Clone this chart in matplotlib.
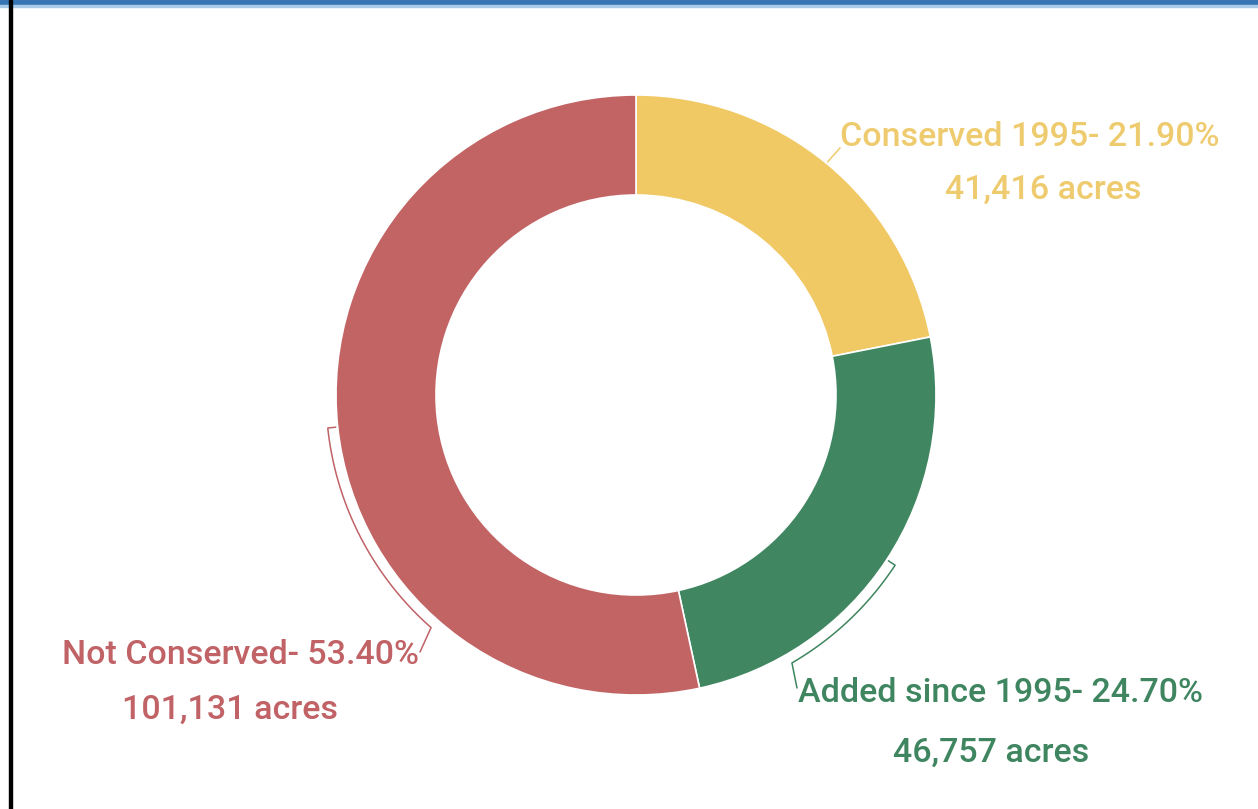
import numpy as np
import matplotlib
matplotlib.use("Agg")
import matplotlib.pyplot as plt
from matplotlib.patches import Rectangle

plt.rcParams['font.family'] = ['Roboto', 'DejaVu Sans']

categories = ["Conserved 1995", "Added since 1995", "Not Conserved"]
shares = [21.90, 24.70, 53.40]
acres = ["41,416", "46,757", "101,131"]
slice_colors = ["#F0C964", "#3F8661", "#C26364"]
text_colors = ["#EECB6E", "#3E8560", "#C06266"]

W, H = 1258, 809
fig = plt.figure(figsize=(W / 100, H / 100), dpi=100)
ax = fig.add_axes([0, 0, 1, 1])
ax.set_xlim(0, W)
ax.set_ylim(H, 0)
ax.set_aspect('equal')
ax.axis('off')

cx, cy, R = 636, 395, 300
# y axis points down, so "counterclockwise" in data space reads clockwise on screen
wedges, _ = ax.pie(shares, colors=slice_colors, startangle=-90, counterclock=True,
                   center=(cx, cy), radius=R, frame=True,
                   wedgeprops=dict(width=100, edgecolor='white', linewidth=1.2))
ax.set_xlim(0, W)
ax.set_ylim(H, 0)
ax.axis('off')

# mid-angle of each slice (degrees, on-screen convention)
bounds = 90 - np.cumsum([0] + shares) / 100 * 360
mids = (bounds[:-1] + bounds[1:]) / 2


def polar(r, a):
    t = np.deg2rad(a)
    return cx + r * np.cos(t), cy - r * np.sin(t)


def leader(mid, sweep, end_xy, color):
    x0, y0 = polar(302, mid)
    x1, y1 = polar(310, mid)
    ang = np.linspace(mid, mid + sweep, 60)
    ax_, ay_ = polar(310, ang)
    xs = np.concatenate([[x0, x1], ax_, [end_xy[0]]])
    ys = np.concatenate([[y0, y1], ay_, [end_xy[1]]])
    ax.plot(xs, ys, color=color, lw=1.1, solid_capstyle='round')


# Conserved: straight leader
x0, y0 = polar(302, mids[0])
ax.plot([x0, 840], [y0, 148], color=text_colors[0], lw=1.1)
# Added since 1995: curved leader along the outer edge
leader(mids[1], -26.5, (797, 688), text_colors[1])
# Not Conserved: curved leader along the outer edge
leader(mids[2], 42.5, (420, 652), text_colors[2])

fs = 24.5
label_pos = [((1030, 137), (1043, 190)),
             ((1000, 693), (991, 753)),
             ((241, 655), (230, 710))]
for name, pct, ac, col, (p1, p2) in zip(categories, shares, acres, text_colors, label_pos):
    ax.text(p1[0], p1[1], f"{name}- {pct:.2f}%", color=col, fontsize=fs,
            ha='center', va='center', fontweight='medium')
    ax.text(p2[0], p2[1], f"{ac} acres", color=col, fontsize=fs,
            ha='center', va='center', fontweight='medium')

# frame decorations: blue header strip and left rule
ax.add_patch(Rectangle((0, 0), W, 5, color="#3776B4", zorder=5, clip_on=False))
ax.add_patch(Rectangle((0, 5), W, 1.5, color="#A9CDE8", zorder=5, clip_on=False))
ax.add_patch(Rectangle((9, 0), 2.5, H, color="black", zorder=6, clip_on=False))

fig.savefig("out.png", dpi=100, facecolor='white')
